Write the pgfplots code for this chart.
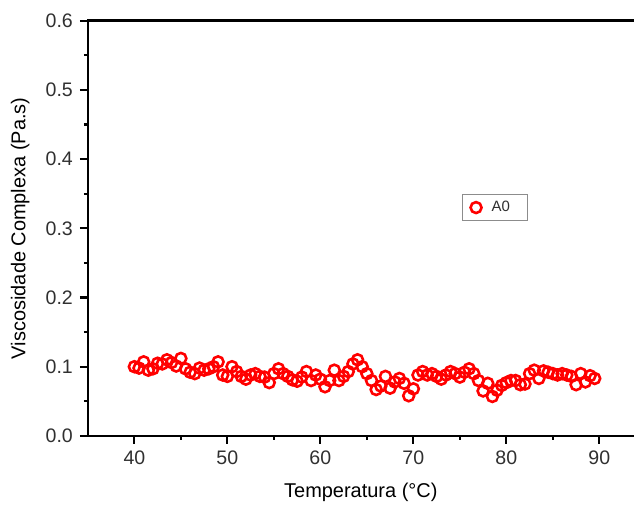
\documentclass[border=0pt]{standalone}
\usepackage{pgfplots}
\pgfplotsset{compat=1.18}
\usepackage{fontspec}
\setmainfont{Liberation Sans}
\definecolor{txt}{HTML}{303030}
\begin{document}
\begin{tikzpicture}
\begin{axis}[
    name=ax,
    scale only axis,
    width=273.5pt, height=208pt,
    xmin=35, xmax=93.7,
    ymin=0, ymax=0.6,
    xtick={40,50,...,90},
    ytick={0,0.1,...,0.6},
    minor tick num=1,
    axis x line=bottom, axis y line=left,
    axis line style={-, line width=1.25pt, black},
    xtick pos=lower, ytick pos=left,
    tick align=outside,
    major tick length=4pt, minor tick length=2pt,
    every tick/.style={black, line width=1.1pt},
    /pgf/number format/assume math mode=true,
    yticklabel style={/pgf/number format/.cd, fixed, fixed zerofill, precision=1},
    ticklabel style={font=\fontsize{9.8}{11}\selectfont, text=txt},
    label style={font=\fontsize{9.8}{11}\selectfont, text=txt},
    xlabel={Temperatura (°C)},
    ylabel={Viscosidade Complexa (Pa.s)},
    every axis x label/.style={at={(rel axis cs:0.5,-0.135)}, anchor=center},
    every axis y label/.style={at={(rel axis cs:-0.124,0.5)}, anchor=center, rotate=90},
    clip=false,
    legend style={at={(axis cs:78.8,0.330)}, anchor=center, draw=black!45,
        line width=0.5pt, font=\fontsize{7.5}{9}\selectfont, text=txt,
        inner xsep=4pt, inner ysep=1pt,
        nodes={inner xsep=5pt, inner ysep=2pt}},
    legend cell align={left},
]
\addplot[only marks, mark=o, mark size=2.75pt, red, line width=1.3pt] coordinates {
(40.0,0.100) (40.5,0.098) (41.0,0.107) (41.5,0.095) (42.0,0.097)
(42.5,0.105) (43.0,0.104) (43.5,0.110) (44.0,0.106) (44.5,0.101)
(45.0,0.112) (45.5,0.097) (46.0,0.092) (46.5,0.090) (47.0,0.098)
(47.5,0.095) (48.0,0.097) (48.5,0.100) (49.0,0.107) (49.5,0.088)
(50.0,0.086) (50.5,0.100) (51.0,0.093) (51.5,0.086) (52.0,0.082)
(52.5,0.088) (53.0,0.090) (53.5,0.086) (54.0,0.085) (54.5,0.077)
(55.0,0.090) (55.5,0.097) (56.0,0.090) (56.5,0.086) (57.0,0.081)
(57.5,0.079) (58.0,0.085) (58.5,0.093) (59.0,0.080) (59.5,0.088)
(60.0,0.082) (60.5,0.071) (61.0,0.080) (61.5,0.095) (62.0,0.080)
(62.5,0.086) (63.0,0.093) (63.5,0.104) (64.0,0.110) (64.5,0.100)
(65.0,0.090) (65.5,0.080) (66.0,0.067) (66.5,0.072) (67.0,0.086)
(67.5,0.069) (68.0,0.078) (68.5,0.083) (69.0,0.076) (69.5,0.058)
(70.0,0.068) (70.5,0.088) (71.0,0.093) (71.5,0.088) (72.0,0.090)
(72.5,0.086) (73.0,0.082) (73.5,0.088) (74.0,0.093) (74.5,0.090)
(75.0,0.085) (75.5,0.092) (76.0,0.097) (76.5,0.090) (77.0,0.080)
(77.5,0.065) (78.0,0.076) (78.5,0.057) (79.0,0.066) (79.5,0.073)
(80.0,0.077) (80.5,0.080) (81.0,0.080) (81.5,0.074) (82.0,0.075)
(82.5,0.090) (83.0,0.095) (83.5,0.083) (84.0,0.094) (84.5,0.092)
(85.0,0.090) (85.5,0.088) (86.0,0.090) (86.5,0.088) (87.0,0.086)
(87.5,0.074) (88.0,0.090) (88.5,0.078) (89.0,0.087) (89.5,0.083)
};
\addlegendentry{A0}
% page size as in the reference
\path (rel axis cs:-0.161,-0.166) rectangle (rel axis cs:1,1.050);
\end{axis}
% top frame line (the right one is cut off in the reference)
\fill[black] ([xshift=-0.6pt,yshift=-0.65pt]ax.north west) rectangle ([xshift=273.5pt,yshift=0.65pt]ax.north west);
\end{tikzpicture}
\end{document}
